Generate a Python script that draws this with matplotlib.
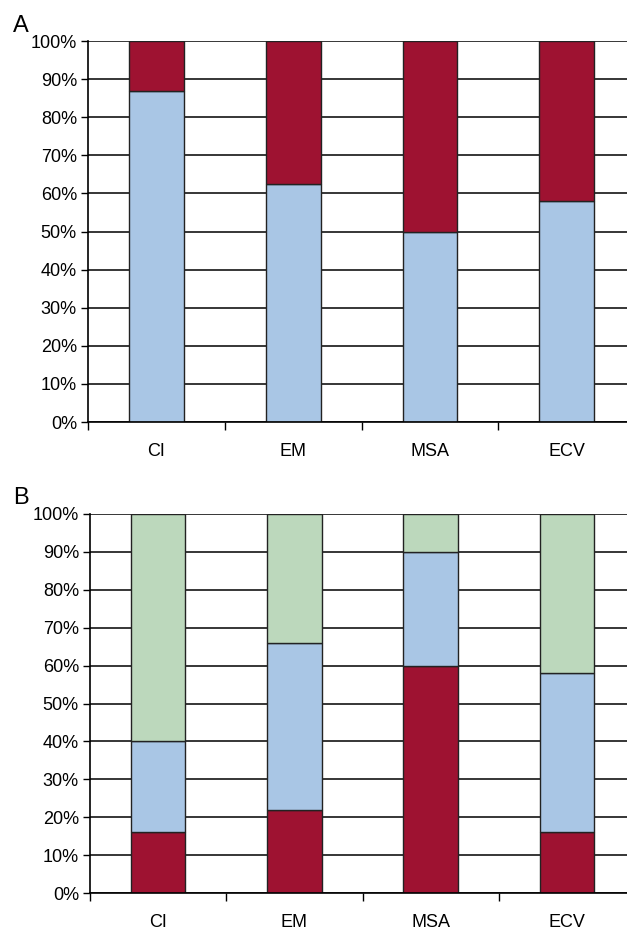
import numpy as np
import matplotlib.pyplot as plt

plt.rcParams['font.family'] = ['Liberation Sans', 'DejaVu Sans']

categories = ['CI', 'EM', 'MSA', 'ECV']

# panel A (two parts)
a_blue = [87, 62.5, 50, 58]
a_red = [13, 37.5, 50, 42]

# panel B (three parts, bottom to top)
b_red = [16, 22, 60, 16]
b_blue = [24, 44, 30, 42]
b_green = [60, 34, 10, 42]

RED = '#9e1231'
BLUE = '#a9c6e5'
GREEN = '#bcd8bc'


def style_axes(ax):
    x = np.arange(len(categories))
    ax.set_xlim(-0.5, 3.44)
    ax.set_ylim(0, 100)
    ax.set_yticks(range(0, 101, 10))
    ax.set_yticklabels([f'{v}%' for v in range(0, 101, 10)], fontsize=13)
    ax.yaxis.grid(True, color='black', linewidth=1.1)
    ax.set_axisbelow(True)
    # tick marks between categories, labels at the centres
    ax.set_xticks(x - 0.5)
    ax.set_xticklabels([])
    ax.set_xticks(x, minor=True)
    ax.set_xticklabels(categories, minor=True, fontsize=13)
    ax.tick_params(axis='x', which='major', length=6, width=1, direction='out')
    ax.tick_params(axis='x', which='minor', length=0, pad=15)
    ax.tick_params(axis='y', length=5, width=1, direction='out', pad=3)
    for s in ['top', 'right']:
        ax.spines[s].set_visible(False)
    ax.spines['left'].set_linewidth(1.2)
    ax.spines['bottom'].set_linewidth(1.2)


fig = plt.figure(figsize=(6.27, 9.33), dpi=100)
axA = fig.add_axes([88 / 627, 1 - 422 / 933, 1 - 88 / 627, 381 / 933])
axB = fig.add_axes([90 / 627, 1 - 893 / 933, 1 - 90 / 627, 379 / 933])

x = np.arange(len(categories))
w = 0.4
kw = dict(width=w, edgecolor='#222222', linewidth=1)

axA.bar(x, a_blue, color=BLUE, **kw)
axA.bar(x, a_red, bottom=a_blue, color=RED, **kw)
style_axes(axA)

axB.bar(x, b_red, color=RED, **kw)
axB.bar(x, b_blue, bottom=b_red, color=BLUE, **kw)
axB.bar(x, b_green, bottom=np.add(b_red, b_blue), color=GREEN, **kw)
style_axes(axB)

fig.text(13 / 627, 1 - 32 / 933, 'A', fontsize=17, ha='left', va='baseline')
fig.text(13 / 627, 1 - 504 / 933, 'B', fontsize=17, ha='left', va='baseline')

fig.savefig('out.png', dpi=100)
